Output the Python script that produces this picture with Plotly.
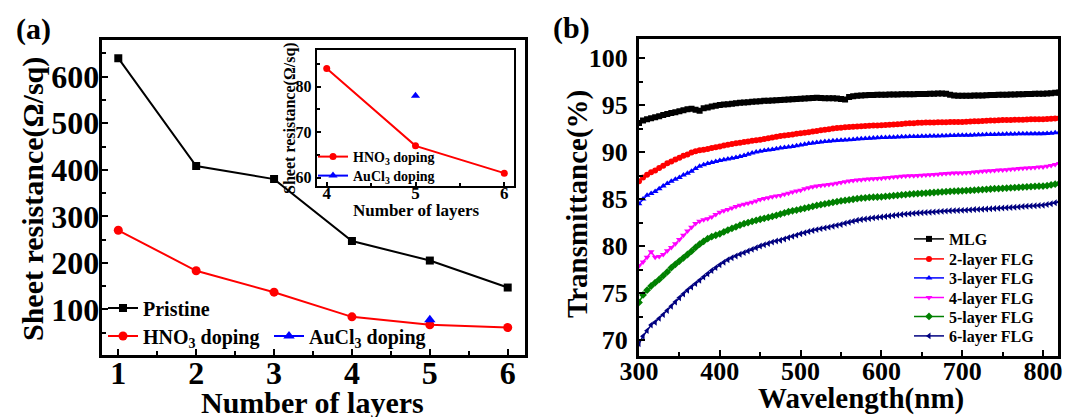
import plotly.graph_objects as go

# ---------------- Panel (a) data ----------------
layers = [1, 2, 3, 4, 5, 6]
pristine = [640, 408, 380, 247, 205, 147]
hno3 = [270, 183, 137, 84, 67, 61]
aucl3_layers = [5]
aucl3 = [78]

inset_layers = [4, 5, 6]
inset_hno3 = [84, 67, 61]
inset_aucl3_layers = [5]
inset_aucl3 = [78]

# ---------------- Panel (b) data ----------------
wavelength = list(range(300, 821, 5))

mlg = [93.1, 93.35, 93.5, 93.6, 93.7, 93.8, 93.95, 94.05, 94.15, 94.25,
       94.35, 94.45, 94.55, 94.6, 94.5, 94.4, 94.65, 94.75, 94.85, 94.92,
       95.0, 95.05, 95.1, 95.15, 95.2, 95.25, 95.28, 95.3, 95.35, 95.38,
       95.42, 95.45, 95.47, 95.5, 95.52, 95.55, 95.57, 95.6, 95.62, 95.65,
       95.68, 95.7, 95.72, 95.75, 95.77, 95.75, 95.74, 95.73, 95.72, 95.7,
       95.65, 95.6, 95.85, 95.95, 96.0, 96.02, 96.05, 96.06, 96.08, 96.1,
       96.1, 96.1, 96.12, 96.12, 96.13, 96.14, 96.15, 96.15, 96.16, 96.17,
       96.18, 96.19, 96.2, 96.2, 96.22, 96.22, 96.2, 96.1, 96.02, 96.0,
       96.0, 96.0, 96.0, 96.01, 96.02, 96.03, 96.05, 96.06, 96.08, 96.09,
       96.1, 96.1, 96.12, 96.13, 96.15, 96.16, 96.17, 96.18, 96.2, 96.2,
       96.2, 96.22, 96.25, 96.3, 96.35]

flg2 = [86.9, 87.3, 87.6, 87.85, 88.05, 88.3, 88.55, 88.8, 89.0, 89.2,
        89.4, 89.6, 89.75, 89.95, 90.1, 90.2, 90.25, 90.32, 90.42, 90.52,
        90.6, 90.7, 90.78, 90.86, 90.94, 91.0, 91.06, 91.13, 91.2, 91.25,
        91.3, 91.38, 91.46, 91.54, 91.62, 91.7, 91.76, 91.82, 91.88, 91.94,
        92.0, 92.06, 92.12, 92.18, 92.25, 92.32, 92.38, 92.44, 92.5, 92.55,
        92.6, 92.63, 92.66, 92.69, 92.72, 92.75, 92.78, 92.8, 92.82, 92.84,
        92.86, 92.88, 92.91, 92.94, 92.97, 93.0, 93.03, 93.06, 93.08, 93.11,
        93.13, 93.14, 93.15, 93.16, 93.17, 93.18, 93.18, 93.19, 93.2, 93.2,
        93.21, 93.23, 93.25, 93.27, 93.29, 93.31, 93.33, 93.35, 93.37, 93.38,
        93.4, 93.41, 93.42, 93.43, 93.44, 93.45, 93.47, 93.48, 93.5, 93.5,
        93.5, 93.52, 93.55, 93.58, 93.6]

flg3 = [84.5, 85.0, 85.4, 85.6, 85.8, 86.1, 86.4, 86.65, 86.9, 87.1,
        87.3, 87.55, 87.75, 87.95, 88.25, 88.5, 88.65, 88.78, 88.9, 89.0,
        89.1, 89.18, 89.25, 89.33, 89.42, 89.52, 89.64, 89.76, 89.9, 90.0,
        90.1, 90.16, 90.22, 90.28, 90.35, 90.42, 90.48, 90.54, 90.6, 90.68,
        90.75, 90.82, 90.9, 90.96, 91.02, 91.07, 91.12, 91.16, 91.2, 91.23,
        91.26, 91.29, 91.32, 91.35, 91.38, 91.41, 91.44, 91.47, 91.5, 91.52,
        91.54, 91.56, 91.57, 91.59, 91.6, 91.62, 91.63, 91.65, 91.66, 91.67,
        91.68, 91.69, 91.7, 91.71, 91.72, 91.74, 91.75, 91.76, 91.77, 91.78,
        91.78, 91.79, 91.8, 91.82, 91.83, 91.85, 91.86, 91.87, 91.88, 91.89,
        91.9, 91.91, 91.92, 91.93, 91.94, 91.94, 91.95, 91.95, 91.96, 91.96,
        91.96, 91.98, 92.0, 92.05, 92.1]

flg4 = [77.9, 78.3, 78.8, 79.4, 78.8, 78.9, 79.1, 79.5, 79.85, 80.25,
        80.7, 81.15, 81.6, 82.0, 82.4, 82.65, 82.8, 82.9, 83.1, 83.35,
        83.6, 83.75, 83.9, 84.05, 84.2, 84.35, 84.45, 84.55, 84.65, 84.8,
        84.95, 85.05, 85.15, 85.25, 85.32, 85.38, 85.5, 85.62, 85.75, 85.85,
        85.95, 86.1, 86.2, 86.3, 86.38, 86.45, 86.5, 86.55, 86.6, 86.68,
        86.76, 86.84, 86.92, 86.98, 87.02, 87.06, 87.1, 87.14, 87.17, 87.2,
        87.22, 87.26, 87.3, 87.34, 87.38, 87.42, 87.45, 87.47, 87.49, 87.51,
        87.53, 87.55, 87.58, 87.61, 87.64, 87.68, 87.72, 87.74, 87.76, 87.77,
        87.78, 87.8, 87.83, 87.87, 87.91, 87.95, 87.99, 88.02, 88.05, 88.08,
        88.1, 88.13, 88.16, 88.2, 88.24, 88.28, 88.31, 88.34, 88.37, 88.4,
        88.42, 88.5, 88.58, 88.68, 88.78]

flg5 = [74.0, 74.8, 75.3, 75.75, 76.1, 76.45, 76.85, 77.25, 77.7, 78.05,
        78.4, 78.75, 79.1, 79.45, 79.85, 80.2, 80.5, 80.78, 81.0, 81.15,
        81.3, 81.5, 81.7, 81.88, 82.05, 82.22, 82.38, 82.5, 82.62, 82.74,
        82.85, 82.95, 83.05, 83.15, 83.27, 83.4, 83.52, 83.65, 83.75, 83.83,
        83.92, 84.02, 84.12, 84.22, 84.32, 84.4, 84.48, 84.56, 84.64, 84.72,
        84.8, 84.86, 84.92, 84.98, 85.04, 85.09, 85.13, 85.17, 85.2, 85.22,
        85.24, 85.28, 85.32, 85.36, 85.4, 85.44, 85.48, 85.52, 85.56, 85.58,
        85.61, 85.64, 85.67, 85.7, 85.73, 85.76, 85.79, 85.82, 85.84, 85.86,
        85.88, 85.9, 85.92, 85.95, 85.98, 86.01, 86.04, 86.07, 86.1, 86.12,
        86.14, 86.17, 86.2, 86.22, 86.25, 86.28, 86.3, 86.33, 86.35, 86.37,
        86.38, 86.42, 86.5, 86.58, 86.66]

flg6 = [69.6, 70.4, 71.0, 71.6, 71.9, 72.3, 72.7, 73.15, 73.6, 74.05,
        74.5, 74.9, 75.3, 75.65, 76.0, 76.35, 76.7, 77.05, 77.4, 77.7,
        78.0, 78.28, 78.55, 78.75, 78.95, 79.12, 79.3, 79.48, 79.65, 79.82,
        80.0, 80.14, 80.28, 80.42, 80.53, 80.62, 80.75, 80.9, 81.03, 81.16,
        81.3, 81.42, 81.54, 81.65, 81.75, 81.85, 81.93, 82.01, 82.1, 82.2,
        82.3, 82.42, 82.54, 82.65, 82.75, 82.82, 82.88, 82.94, 83.0, 83.05,
        83.1, 83.15, 83.2, 83.25, 83.3, 83.35, 83.4, 83.44, 83.48, 83.51,
        83.54, 83.57, 83.6, 83.63, 83.66, 83.69, 83.72, 83.75, 83.77, 83.79,
        83.8, 83.82, 83.85, 83.88, 83.9, 83.92, 83.95, 83.97, 84.0, 84.02,
        84.04, 84.07, 84.1, 84.13, 84.16, 84.2, 84.23, 84.26, 84.29, 84.32,
        84.35, 84.42, 84.5, 84.6, 84.7]

series_b = [
    ("MLG", mlg, "#000000", "square"),
    ("2-layer FLG", flg2, "#FF0000", "circle"),
    ("3-layer FLG", flg3, "#0000FF", "triangle-up"),
    ("4-layer FLG", flg4, "#FF00FF", "triangle-down"),
    ("5-layer FLG", flg5, "#008000", "diamond"),
    ("6-layer FLG", flg6, "#000080", "triangle-left"),
]

W, H = 1068, 417
FONT = "Liberation Serif"


def px(x):
    return x / W


def py(y):
    return 1 - y / H


def bold(size):
    return dict(family=FONT, size=size, color="black", weight="bold")


def leg(line_start, row_y, size):
    # one-row legend whose sample line starts at pixel line_start, centred on row_y
    return dict(x=px(line_start - 5), y=py(row_y), xanchor="left", yanchor="middle",
                bgcolor="rgba(0,0,0,0)", borderwidth=0, font=bold(size), visible=True)


fig = go.Figure()

# Panel (a)
fig.add_trace(go.Scatter(x=layers, y=pristine, mode="lines+markers", name="Pristine",
                         line=dict(color="black", width=2),
                         marker=dict(symbol="square", size=8, color="black"),
                         xaxis="x", yaxis="y", legend="legend", showlegend=True))
fig.add_trace(go.Scatter(x=layers, y=hno3, mode="lines+markers", name="HNO<sub>3</sub> doping",
                         line=dict(color="#FF0000", width=2),
                         marker=dict(symbol="circle", size=9, color="#FF0000"),
                         xaxis="x", yaxis="y", legend="legend2", showlegend=True))
fig.add_trace(go.Scatter(x=aucl3_layers, y=aucl3, mode="lines+markers", name="AuCl<sub>3</sub> doping",
                         line=dict(color="#0000FF", width=2),
                         marker=dict(symbol="triangle-up", size=10, color="#0000FF"),
                         xaxis="x", yaxis="y", legend="legend3", showlegend=True))

# Inset
fig.add_trace(go.Scatter(x=inset_layers, y=inset_hno3, mode="lines+markers", name="HNO<sub>3</sub> doping",
                         line=dict(color="#FF0000", width=2),
                         marker=dict(symbol="circle", size=7, color="#FF0000"),
                         xaxis="x3", yaxis="y3", legend="legend4", showlegend=True))
fig.add_trace(go.Scatter(x=inset_aucl3_layers, y=inset_aucl3, mode="lines+markers", name="AuCl<sub>3</sub> doping",
                         line=dict(color="#0000FF", width=2),
                         marker=dict(symbol="triangle-up", size=8, color="#0000FF"),
                         xaxis="x3", yaxis="y3", legend="legend5", showlegend=True))

# Panel (b)
b_rows = [239, 259, 278, 297.5, 316.5, 336]
for i, (name, vals, color, sym) in enumerate(series_b):
    fig.add_trace(go.Scatter(x=wavelength[:len(vals)], y=vals, mode="lines+markers", name=name,
                             line=dict(color=color, width=1.5),
                             marker=dict(symbol=sym, size=6, color=color),
                             xaxis="x2", yaxis="y2", legend="legend%d" % (6 + i), showlegend=True))

frame = dict(showline=True, mirror=True, linecolor="black", ticks="inside",
             tickcolor="black", showgrid=False, zeroline=False, automargin=False)

layout = dict(
    width=W, height=H, showlegend=True,
    margin=dict(l=0, r=0, t=0, b=0, autoexpand=False),
    paper_bgcolor="white", plot_bgcolor="white",
    xaxis=dict(domain=[px(101.7), px(525)], anchor="y", range=[0.787, 6.222],
               tickvals=layers, linewidth=3, tickwidth=2, ticklen=6, ticklabelstandoff=-12,
               tickfont=bold(32), minor=dict(ticks="inside", dtick=0.5, tick0=0.5, ticklen=4, tickwidth=2, tickcolor="black"),
               **frame),
    yaxis=dict(domain=[py(355), py(40)], anchor="x", range=[2, 679],
               tickvals=[100, 200, 300, 400, 500, 600], linewidth=3, tickwidth=2, ticklen=6, ticklabelstandoff=-7,
               tickfont=bold(32), minor=dict(ticks="inside", dtick=50, tick0=0, ticklen=4, tickwidth=2, tickcolor="black"),
               **frame),
    xaxis2=dict(domain=[px(639), px(1058)], anchor="y2", range=[300, 818.5],
                tickvals=[300, 400, 500, 600, 700, 800], linewidth=3, tickwidth=2, ticklen=6, ticklabelstandoff=-10,
                tickfont=bold(26), minor=dict(ticks="inside", dtick=50, tick0=0, ticklen=4, tickwidth=2, tickcolor="black"),
                **frame),
    yaxis2=dict(domain=[py(356), py(39.3)], anchor="x2", range=[68.3, 102.0],
                tickvals=[70, 75, 80, 85, 90, 95, 100], linewidth=3, tickwidth=2, ticklen=6, ticklabelstandoff=3,
                tickfont=bold(26), minor=dict(ticks="inside", dtick=2.5, tick0=0, ticklen=4, tickwidth=2, tickcolor="black"),
                **frame),
    xaxis3=dict(domain=[px(316.7), px(514.3)], anchor="y3", range=[3.887, 6.113],
                tickvals=inset_layers, linewidth=2, tickwidth=1.5, ticklen=4, ticklabelstandoff=-9,
                tickfont=bold(17), minor=dict(ticks="inside", dtick=0.5, tick0=0, ticklen=3, tickwidth=1.5, tickcolor="black"),
                **frame),
    yaxis3=dict(domain=[py(186), py(50)], anchor="x3", range=[58.17, 88.07],
                tickvals=[60, 70, 80], linewidth=2, tickwidth=1.5, ticklen=4, ticklabelstandoff=0,
                tickfont=bold(16), minor=dict(ticks="inside", dtick=5, tick0=0, ticklen=3, tickwidth=1.5, tickcolor="black"),
                **frame),
    legend=leg(108, 308, 20),
    legend2=leg(108, 336, 20),
    legend3=leg(274, 336, 20),
    legend4=leg(318, 157, 14),
    legend5=leg(318, 176, 14),
)
for i, ry in enumerate(b_rows):
    layout["legend%d" % (6 + i)] = leg(914, ry, 16)

fig.update_layout(**layout)

annotations = [
    dict(text="(a)", x=px(33), y=py(29), font=bold(30)),
    dict(text="(b)", x=px(571), y=py(28), font=bold(30)),
    dict(text="Sheet resistance(Ω/sq)", x=px(33), y=py(199), textangle=-90, font=bold(30)),
    dict(text="Number of layers", x=px(312), y=py(402), font=bold(30)),
    dict(text="Transmittance(%)", x=px(577), y=py(204), textangle=-90, font=bold(29)),
    dict(text="Wavelength(nm)", x=px(861), y=py(398), font=bold(29)),
    dict(text="Sheet resistance(Ω/sq)", x=px(290), y=py(118), textangle=-90, font=bold(16)),
    dict(text="Number of layers", x=px(416), y=py(211), font=bold(17)),
]
for a in annotations:
    fig.add_annotation(xref="paper", yref="paper", showarrow=False,
                       xanchor="center", yanchor="middle", **a)

fig.write_html("out.html", config={"displayModeBar": False},
               post_script="document.body.style.margin='0px';document.body.style.overflow='hidden';")
